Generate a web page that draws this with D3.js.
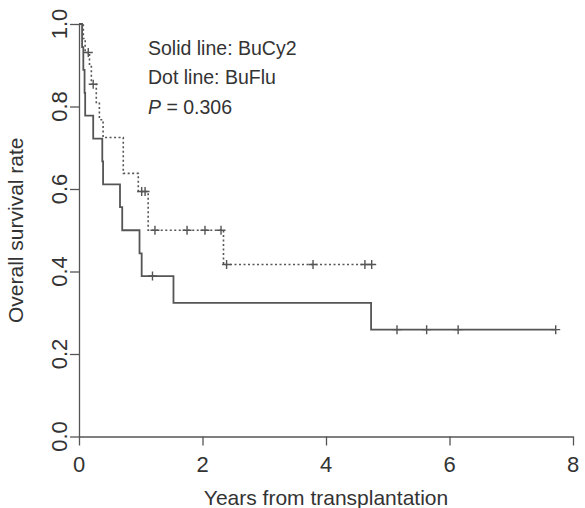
<!DOCTYPE html>
<html>
<head>
<meta charset="utf-8">
<script src="https://cdn.jsdelivr.net/npm/d3@7"></script>
<style>
  html, body { margin: 0; padding: 0; background: #fff; }
  svg { display: block; }
  text { font-family: "Liberation Sans", Arial, sans-serif; fill: #333; }
</style>
</head>
<body>
<svg id="chart" width="585" height="508"></svg>
<script>
// Kaplan-Meier estimates: event times (years) and survival after each event
const bucy2Times = [0.05, 0.07, 0.09, 0.10, 0.23, 0.377, 0.39, 0.664, 0.70, 0.98, 1.015, 1.53, 4.73];
const bucy2Surv  = [0.944, 0.889, 0.833, 0.778, 0.722, 0.667, 0.611, 0.556, 0.5, 0.444, 0.389, 0.324, 0.259];
const bucy2Censor = [1.19, 5.15, 5.63, 6.14, 7.72];

const buFluTimes = [0.07, 0.10, 0.17, 0.20, 0.28, 0.33, 0.39, 0.717, 0.96, 1.12, 2.34];
const buFluSurv  = [0.965, 0.931, 0.897, 0.854, 0.81, 0.768, 0.725, 0.638, 0.594, 0.5, 0.417];
const buFluCensor = [0.15, 0.23, 1.015, 1.07, 1.23, 1.75, 2.04, 2.3, 2.39, 3.79, 4.63, 4.74];

const xTicks = [0, 2, 4, 6, 8];
const yTicks = [0, 0.2, 0.4, 0.6, 0.8, 1.0];

const legendLines = ["Solid line: BuCy2", "Dot line: BuFlu"];
const pValue = "0.306";

const svg = d3.select("#chart");
const x = d3.scaleLinear().domain([0, 8]).range([79, 573]);
const y = d3.scaleLinear().domain([0, 1]).range([436.5, 24]);

const axisColor = "#555";
const lineColor = "#555";

// Axes (lines and ticks only; labels drawn separately)
const gx = svg.append("g").attr("transform", `translate(0,${y(0)})`)
  .call(d3.axisBottom(x).tickValues(xTicks).tickSize(9).tickSizeOuter(0).tickFormat(""));
const gy = svg.append("g").attr("transform", `translate(${x(0)},0)`)
  .call(d3.axisLeft(y).tickValues(yTicks).tickSize(9).tickSizeOuter(0).tickFormat(""));
[gx, gy].forEach(g => {
  g.selectAll("path, line").attr("stroke", axisColor).attr("stroke-width", 1.3);
});

// Tick labels
svg.append("g").selectAll("text").data(xTicks).join("text")
  .attr("x", d => x(d)).attr("y", 471.5)
  .attr("text-anchor", "middle").attr("font-size", 22)
  .text(d => d);
svg.append("g").selectAll("text").data(yTicks).join("text")
  .attr("transform", d => `translate(67,${y(d)}) rotate(-90)`)
  .attr("text-anchor", "middle").attr("font-size", 22)
  .text(d => d3.format(".1f")(d));

// Axis titles
svg.append("text").attr("x", (x(0) + x(8)) / 2).attr("y", 505)
  .attr("text-anchor", "middle").attr("font-size", 21)
  .text("Years from transplantation");
svg.append("text").attr("transform", `translate(23,${(y(0) + y(1)) / 2}) rotate(-90)`)
  .attr("text-anchor", "middle").attr("font-size", 21)
  .text("Overall survival rate");

// Survival step curves
function stepPoints(times, surv, censor) {
  const pts = [[0, 1]];
  times.forEach((t, i) => pts.push([t, surv[i]]));
  const end = Math.max(times[times.length - 1], censor[censor.length - 1]);
  pts.push([end, surv[surv.length - 1]]);
  return pts;
}
function levelAt(times, surv, t) {
  let s = 1;
  times.forEach((tt, i) => { if (tt <= t) s = surv[i]; });
  return s;
}
const line = d3.line().x(d => x(d[0])).y(d => y(d[1])).curve(d3.curveStepAfter);

function drawCurve(times, surv, censor, dash) {
  const g = svg.append("g");
  g.append("path").datum(stepPoints(times, surv, censor))
    .attr("d", line).attr("fill", "none")
    .attr("stroke", lineColor).attr("stroke-width", dash ? 1.6 : 1.8)
    .attr("stroke-dasharray", dash || null);
  const h = 4.5;
  g.selectAll("path.cens").data(censor).join("path").attr("class", "cens")
    .attr("d", t => {
      const cx = x(t), cy = y(levelAt(times, surv, t));
      return `M${cx - h},${cy}H${cx + h}M${cx},${cy - h}V${cy + h}`;
    })
    .attr("stroke", lineColor).attr("stroke-width", 1.4).attr("fill", "none");
}
drawCurve(bucy2Times, bucy2Surv, bucy2Censor, null);
drawCurve(buFluTimes, buFluSurv, buFluCensor, "2,2.5");

// Legend text
const leg = svg.append("g").attr("font-size", 19.5);
legendLines.forEach((s, i) => {
  leg.append("text").attr("x", 148).attr("y", 55 + i * 29).attr("font-size", 19.5).text(s);
});
const pt = leg.append("text").attr("x", 148).attr("y", 113.5).attr("font-size", 19.5);
pt.append("tspan").attr("font-style", "italic").text("P");
pt.append("tspan").text(" = " + pValue);
</script>
</body>
</html>
